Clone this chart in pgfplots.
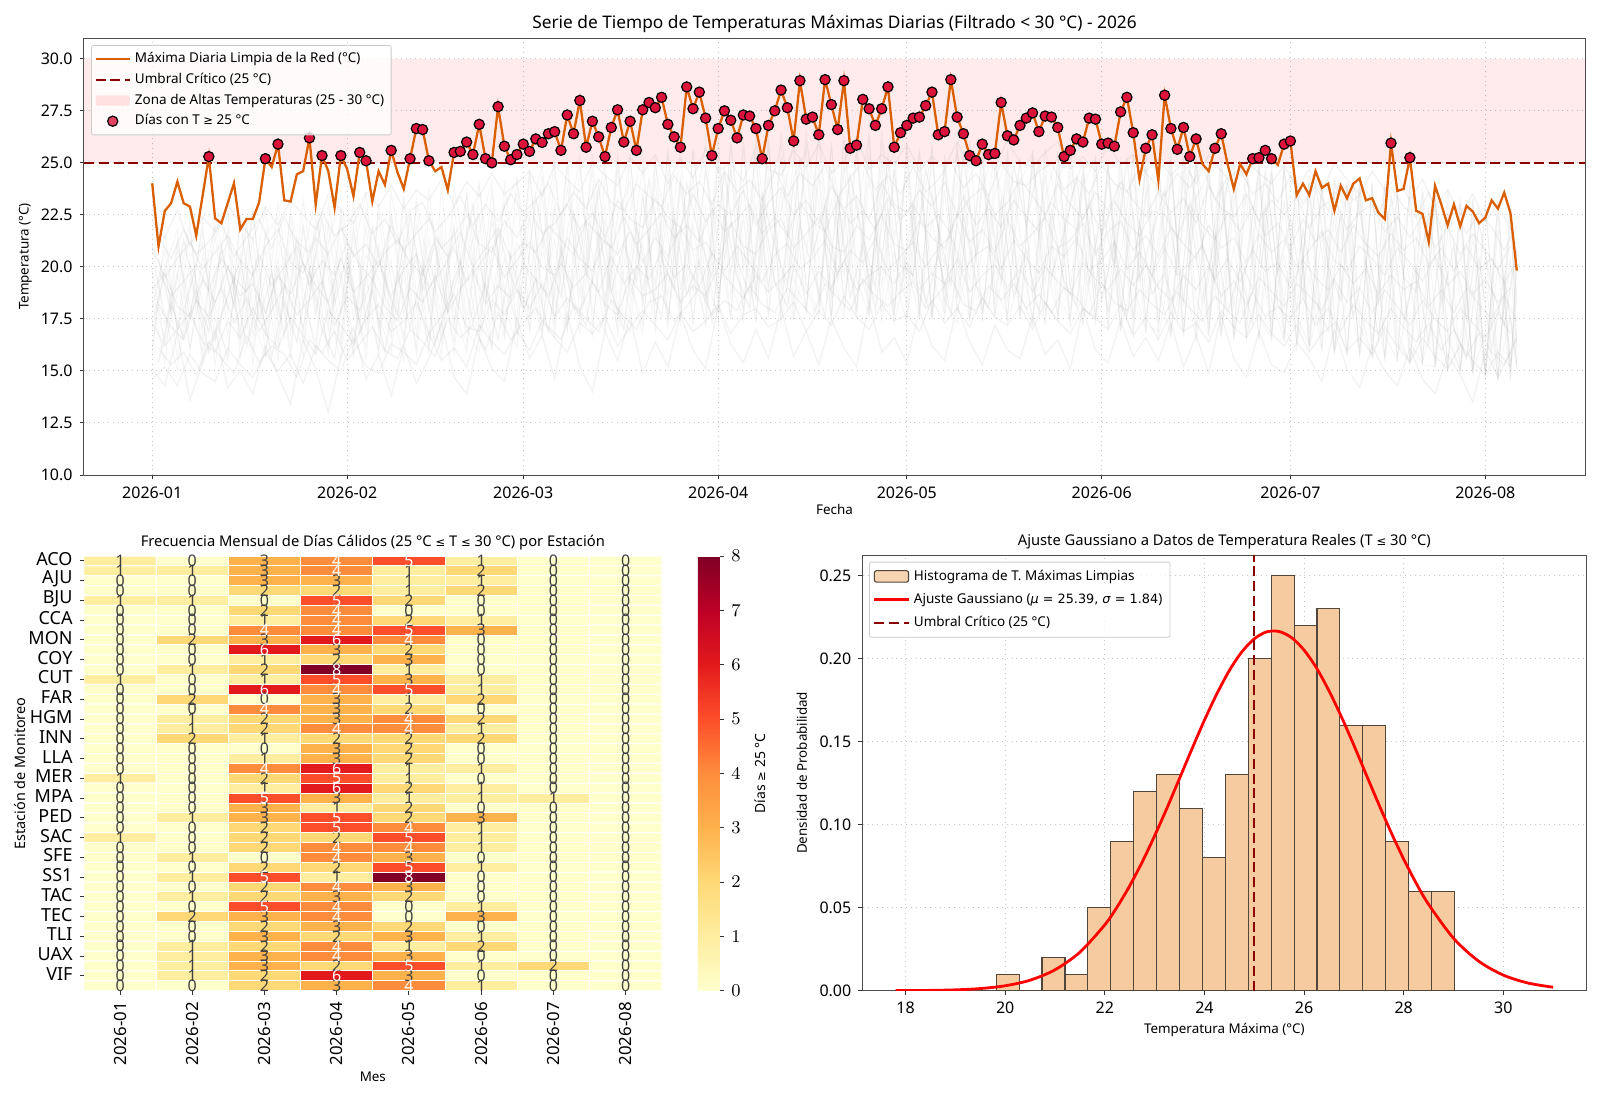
\documentclass[border=0pt]{standalone}
\usepackage{fontspec}
\setmainfont{Noto Sans}
\newfontfamily\dejavu{DejaVu Sans}
\usepackage{pgfplots}
\usepackage{pgfplotstable}
\pgfplotsset{compat=1.18}
\definecolor{linea}{RGB}{217,95,2}
\definecolor{umbral}{RGB}{139,0,0}
\definecolor{crimson}{RGB}{220,20,60}
\definecolor{barra}{RGB}{247,203,160}
\definecolor{bordebarra}{RGB}{80,70,60}

\newcommand{\fs}[1]{\fontsize{#1}{#1}\selectfont}
\newcommand{\sy}[1]{{\dejavu\fontsize{5.8}{5.8}\selectfont #1}}

\pgfplotsset{
  base/.style={
    scale only axis,
    /pgf/number format/assume math mode=true,
    tick label style={font=\fs{8}},
    label style={font=\fs{6.7}},
    title style={font=\fs{7.37},anchor=base,yshift=-1pt},
    tick style={black!80,line width=.5pt},
    major tick length=2.2pt,
    axis line style={black!70,line width=.5pt},
    tick align=outside,
  },
  rejilla/.style={
    grid=major,
    grid style={black!22,dotted,line width=.5pt},
    tick pos=left,
  },
  umbralst/.style={umbral,line width=1.2pt,dash pattern=on 5pt off 2.4pt},
}

% max diaria de la red, dia 0 = 2026-01-01
\pgfplotstableread[row sep=\\]{
d t\\
0 24.02\\1 20.98\\2 22.69\\3 23.06\\4 24.10\\5 23.06\\6 22.90\\7 21.50\\8 23.40\\9 25.30\\
10 22.33\\11 22.10\\12 23.06\\13 24.02\\14 21.80\\15 22.30\\16 22.30\\17 23.10\\18 25.20\\19 24.80\\
20 25.90\\21 23.20\\22 23.14\\23 24.45\\24 24.60\\25 26.20\\26 23.00\\27 25.35\\28 24.60\\29 22.85\\
30 25.35\\31 24.70\\32 23.40\\33 25.50\\34 25.10\\35 23.15\\36 24.60\\37 23.95\\38 25.60\\39 24.55\\
40 23.75\\41 25.20\\42 26.65\\43 26.60\\44 25.10\\45 24.60\\46 24.80\\47 23.70\\48 25.50\\49 25.55\\
50 26.00\\51 25.40\\52 26.85\\53 25.20\\54 25.00\\55 27.70\\56 25.80\\57 25.15\\58 25.40\\59 25.90\\
60 25.55\\61 26.15\\62 25.98\\63 26.40\\64 26.50\\65 25.60\\66 27.30\\67 26.40\\68 28.00\\69 25.75\\
70 27.00\\71 26.25\\72 25.30\\73 26.70\\74 27.55\\75 26.00\\76 27.00\\77 25.60\\78 27.55\\79 27.90\\
80 27.65\\81 28.15\\82 26.85\\83 26.25\\84 25.75\\85 28.65\\86 27.60\\87 28.40\\88 27.15\\89 25.35\\
90 26.65\\91 27.50\\92 27.05\\93 26.20\\94 27.30\\95 27.25\\96 26.65\\97 25.20\\98 26.80\\99 27.50\\
100 28.50\\101 27.65\\102 26.05\\103 28.95\\104 27.10\\105 27.20\\106 26.35\\107 29.00\\108 27.80\\109 26.60\\
110 28.95\\111 25.70\\112 25.85\\113 28.05\\114 27.60\\115 26.80\\116 27.60\\117 28.65\\118 25.75\\119 26.45\\
120 26.80\\121 27.15\\122 27.20\\123 27.75\\124 28.40\\125 26.35\\126 26.50\\127 29.00\\128 27.20\\129 26.40\\
130 25.35\\131 25.10\\132 25.90\\133 25.40\\134 25.45\\135 27.90\\136 26.30\\137 26.10\\138 26.80\\139 27.15\\
140 27.40\\141 26.50\\142 27.25\\143 27.20\\144 26.70\\145 25.30\\146 25.60\\147 26.15\\148 26.00\\149 27.15\\
150 27.10\\151 25.90\\152 25.95\\153 25.80\\154 27.45\\155 28.15\\156 26.45\\157 24.20\\158 25.70\\159 26.35\\
160 24.15\\161 28.25\\162 26.65\\163 25.65\\164 26.70\\165 25.30\\166 26.15\\167 24.95\\168 24.60\\169 25.70\\
170 26.40\\171 24.95\\172 23.75\\173 24.95\\174 24.45\\175 25.20\\176 25.25\\177 25.60\\178 25.20\\179 24.90\\
180 25.90\\181 26.05\\182 23.45\\183 24.00\\184 23.45\\185 24.60\\186 23.80\\187 24.00\\188 22.70\\189 23.90\\
190 23.30\\191 24.00\\192 24.25\\193 23.20\\194 23.30\\195 22.60\\196 22.30\\197 25.95\\198 23.65\\199 23.75\\
200 25.25\\201 22.70\\202 22.55\\203 21.20\\204 23.90\\205 23.00\\206 22.00\\207 23.00\\208 21.95\\209 22.93\\
210 22.66\\211 22.10\\212 22.37\\213 23.20\\214 22.80\\215 23.57\\216 22.58\\217 19.82\\
}\maxred

% estaciones individuales (fondo gris), estimadas a ojo: una cada dos dias
\pgfplotstableread{
d a b c e f g h i j k
0 16.2 19.8 17.4 21.0 18.3 15.8 20.4 17.0 19.1 18.0
2 20.1 16.4 19.6 17.2 15.4 21.6 17.8 19.9 16.3 20.8
4 15.6 21.3 17.1 19.7 20.9 17.0 15.0 21.8 18.7 16.9
6 19.4 17.5 21.9 16.0 18.2 20.2 18.9 16.1 22.3 19.0
8 17.1 22.2 16.6 20.5 15.9 18.4 21.7 19.3 15.4 21.1
10 21.5 15.2 19.2 18.1 22.6 16.4 17.5 22.0 19.8 16.5
12 16.8 20.0 22.7 15.5 19.4 21.9 15.8 17.9 21.2 18.6
14 19.9 18.2 16.2 22.4 17.0 15.6 22.5 20.6 16.6 20.3
16 15.3 22.9 19.7 17.8 21.4 19.2 16.7 15.9 22.6 17.4
18 21.8 16.7 17.2 20.9 15.8 22.8 19.6 21.5 17.7 15.7
20 17.7 20.4 23.1 16.3 19.9 17.2 15.5 22.4 20.0 21.3
22 22.5 16.0 18.4 21.7 17.3 20.7 22.9 16.8 15.6 19.2
24 16.4 21.9 15.7 19.0 23.2 16.9 18.3 20.5 22.1 17.1
26 20.6 17.6 21.4 15.9 18.8 22.3 16.4 23.3 17.9 20.0
28 18.2 23.0 16.9 22.1 16.2 19.5 21.2 17.4 20.7 15.8
30 15.4 19.3 22.8 17.7 21.0 16.1 23.4 19.8 16.5 22.4
32 22.1 15.7 18.6 20.7 16.3 23.2 19.1 15.9 21.6 17.5
34 17.0 21.9 16.1 23.5 19.7 17.4 15.6 22.8 18.3 20.6
36 20.8 16.8 23.0 17.6 15.8 21.1 22.7 17.2 16.0 19.4
38 16.5 22.6 19.3 15.9 22.4 18.2 17.1 20.3 23.6 17.9
40 23.1 18.5 16.4 21.5 17.7 15.5 23.4 16.6 19.9 21.0
42 17.9 20.4 22.9 16.8 20.8 23.3 18.7 22.0 16.1 15.8
44 21.4 15.9 17.8 23.7 16.6 19.8 16.2 18.9 22.7 20.5
46 16.3 23.8 20.6 18.4 22.2 16.7 21.5 15.7 19.2 17.6
48 19.6 17.3 15.8 22.0 18.1 23.9 17.0 23.0 16.4 21.8
50 23.4 20.2 21.9 16.2 15.9 20.0 23.6 17.5 21.3 17.0
52 16.9 22.5 17.4 20.1 23.8 16.5 18.6 21.7 24.0 15.9
54 22.2 16.0 23.7 17.9 19.5 22.6 16.1 24.1 17.3 20.7
56 18.3 24.0 16.7 23.1 16.6 18.9 21.8 17.2 20.4 22.9
58 16.1 19.7 21.2 16.9 24.3 17.5 23.5 20.0 16.8 24.2
60 24.5 17.1 19.5 22.3 17.6 24.7 16.9 22.4 18.8 20.1
62 18.7 23.6 16.6 24.9 21.4 18.2 20.8 17.0 24.4 16.8
64 21.3 17.2 24.6 18.4 16.7 23.0 25.1 19.6 17.5 22.8
66 17.0 25.2 20.0 16.9 23.9 19.4 17.3 24.8 21.7 18.1
68 24.9 19.3 17.3 23.4 18.5 16.8 21.9 17.6 25.3 20.4
70 19.2 16.7 22.9 20.6 25.4 21.8 18.0 23.7 17.2 24.6
72 23.0 24.4 18.1 17.0 19.7 25.0 16.9 18.5 22.3 17.7
74 17.4 20.9 25.5 22.5 17.1 18.0 24.7 21.0 16.7 25.1
76 25.2 17.8 19.2 24.1 22.7 16.9 19.4 25.4 20.5 18.6
78 18.9 23.5 16.8 18.3 25.6 23.3 17.2 17.9 24.8 21.1
80 21.8 18.4 24.9 25.3 17.6 19.1 22.6 24.2 17.3 16.9
82 17.1 25.7 21.5 17.4 20.2 25.5 18.6 17.5 23.1 24.7
84 24.1 19.0 17.3 23.8 25.8 17.7 24.3 21.9 18.2 17.6
86 19.5 22.2 25.6 18.8 17.2 24.4 20.7 17.4 25.7 22.0
88 17.5 25.9 20.3 24.6 22.8 18.4 17.1 24.9 19.3 18.1
90 25.0 18.3 17.4 21.2 18.0 26.1 23.6 18.7 17.8 25.4
92 18.6 24.7 25.9 17.6 24.8 19.3 17.5 22.1 26.0 19.7
94 22.4 17.7 19.8 26.2 20.1 17.4 25.7 17.9 20.9 23.8
96 17.3 26.3 23.0 18.6 25.6 24.1 18.9 25.2 17.6 18.4
98 25.8 20.4 17.6 24.5 17.7 18.8 26.4 19.1 23.4 26.0
100 19.0 18.1 26.5 19.9 22.6 25.3 17.4 23.7 25.9 17.8
102 23.9 25.4 21.1 17.5 26.2 18.2 20.8 17.6 19.4 24.3
104 17.7 19.2 18.0 26.0 18.9 26.6 24.9 20.5 17.9 25.6
106 26.7 17.8 24.4 23.1 17.5 20.3 18.1 26.3 25.1 18.6
108 20.0 24.8 17.6 18.7 25.7 17.7 26.0 18.4 17.4 23.2
110 17.5 18.5 26.1 25.0 21.3 24.5 17.9 22.7 26.4 19.6
112 25.5 22.0 19.4 17.8 18.0 26.2 23.3 17.5 20.2 25.8
114 18.8 26.5 17.7 24.2 26.3 18.9 17.6 25.4 18.3 17.9
116 24.0 17.4 23.5 20.6 17.8 22.9 26.1 19.0 25.0 26.6
118 17.9 20.7 25.6 17.6 24.6 17.3 19.5 24.7 17.7 21.4
120 25.9 18.2 17.5 25.8 19.6 20.1 17.4 18.8 25.2 24.4
122 19.3 24.6 21.9 17.7 25.5 17.6 24.0 25.7 17.9 18.0
124 17.6 17.8 25.7 22.3 17.4 25.9 19.7 17.5 23.6 25.3
126 24.8 25.4 18.4 19.0 23.7 18.1 17.8 24.9 20.0 17.6
128 18.5 19.9 17.3 25.6 17.9 24.2 25.6 18.3 26.0 22.1
130 26.1 17.5 24.3 18.1 20.4 17.5 21.2 23.1 17.4 19.4
132 17.7 23.8 25.8 17.4 25.2 20.8 17.6 17.9 24.5 25.5
134 22.6 25.9 19.0 24.7 17.6 25.7 23.5 19.8 18.2 17.7
136 17.4 18.4 17.7 22.5 24.1 17.3 25.4 24.7 25.6 20.9
138 25.3 20.6 24.0 17.5 18.7 19.5 17.8 17.6 21.7 25.1
140 18.9 17.6 25.5 25.6 17.2 24.8 22.2 25.2 17.3 18.5
142 24.4 25.7 18.3 19.2 23.3 17.9 17.2 20.4 25.0 17.4
144 17.5 22.8 17.4 24.9 25.5 21.0 25.3 17.7 18.6 24.2
146 25.6 17.8 23.2 17.1 19.1 17.4 18.9 24.6 17.5 25.7
148 20.2 24.3 25.1 18.6 17.3 25.0 24.5 17.2 23.9 18.0
150 17.3 18.8 17.6 25.4 24.7 18.7 17.5 21.5 25.2 17.6
152 24.9 25.0 19.7 17.2 17.8 24.3 25.1 17.9 16.9 22.6
154 18.0 16.9 25.3 23.0 20.5 17.0 18.4 24.8 24.1 17.1
156 22.7 24.5 17.4 16.8 25.2 19.6 16.7 19.3 17.5 25.4
158 16.8 17.6 23.8 25.5 17.2 24.6 23.4 16.9 25.0 18.6
160 25.1 21.3 16.6 18.9 16.9 17.3 25.2 24.0 17.2 20.7
162 17.7 25.4 20.1 16.7 24.4 22.5 17.0 16.6 24.7 25.0
164 24.2 16.8 25.3 24.6 18.1 16.6 19.8 25.1 18.3 16.9
166 16.6 23.6 17.0 18.5 25.0 24.9 16.5 21.7 25.3 23.3
168 19.4 17.2 24.7 16.7 21.6 17.7 25.2 16.8 16.9 24.5
170 25.2 24.4 16.7 22.9 16.6 25.1 18.2 23.9 24.1 17.0
172 17.0 16.6 23.1 25.0 24.8 16.5 24.0 18.0 16.7 21.0
174 23.5 20.0 25.1 16.6 17.1 24.3 16.7 25.0 20.4 16.6
176 16.5 24.9 17.5 19.1 25.0 21.2 18.8 16.5 24.6 24.2
178 24.6 16.7 16.6 24.5 18.4 16.8 24.9 22.4 16.4 17.4
180 18.1 23.2 24.8 16.4 16.5 24.7 17.0 16.6 25.0 20.6
182 24.0 16.5 17.9 24.2 22.8 16.3 16.0 24.3 17.6 16.4
184 16.2 24.1 23.4 16.8 16.1 19.5 24.4 16.1 16.3 23.9
186 21.6 17.3 16.0 23.7 24.2 16.0 20.7 18.9 24.0 16.7
188 16.0 22.5 24.3 15.9 17.7 24.1 15.8 23.6 15.9 21.2
190 24.1 15.8 19.2 21.9 15.8 22.7 24.0 15.8 18.5 23.5
192 17.2 24.0 15.9 16.1 23.8 15.7 18.1 24.2 23.3 15.7
194 15.7 19.6 23.7 24.1 16.0 20.3 15.6 16.4 15.7 24.0
196 23.8 15.6 16.7 15.6 22.1 23.9 17.5 21.4 24.0 15.6
198 16.4 23.5 15.5 20.0 23.7 15.6 23.6 15.5 17.0 22.6
200 15.5 16.3 24.0 23.4 15.5 18.6 15.4 23.9 15.3 19.3
202 22.9 15.4 20.8 15.4 17.2 23.6 21.1 15.3 23.8 15.5
204 15.3 23.6 15.3 18.0 23.5 15.2 23.4 15.2 17.9 23.0
206 19.7 15.2 23.2 15.1 16.6 21.7 15.1 23.7 15.1 16.9
208 15.0 22.3 15.1 23.3 15.0 23.1 16.2 18.4 23.0 15.0
210 23.3 15.0 18.9 14.8 22.7 15.0 23.2 14.9 15.2 21.5
212 14.9 20.7 15.0 22.9 14.7 16.8 14.8 23.4 19.4 14.7
214 22.6 14.7 23.1 15.6 20.1 14.6 21.8 14.7 14.6 23.2
216 15.2 23.0 14.5 20.5 14.6 22.8 14.9 17.7 22.1 15.3
217 19.0 16.3 20.6 15.0 21.0 16.0 20.0 15.4 18.2 17.0
}\estaciones

\pgfplotstableread[row sep=\\,header=false]{
14.6\\15.2\\14.3\\15.8\\14.9\\14.5\\16.1\\15.3\\14.7\\15.9\\15.0\\15.8\\14.4\\16.2\\15.5\\15.0\\16.6\\15.2\\14.9\\16.3\\
15.9\\15.3\\16.8\\15.5\\16.1\\15.2\\17.2\\16.4\\15.8\\16.9\\16.0\\17.4\\16.6\\15.9\\17.3\\16.8\\17.6\\16.2\\17.1\\17.9\\
17.2\\16.5\\17.8\\16.9\\17.4\\18.2\\16.8\\17.7\\18.0\\17.1\\17.5\\18.3\\16.9\\17.9\\17.2\\18.6\\17.6\\17.0\\18.2\\17.4\\
17.7\\16.9\\18.4\\17.3\\18.0\\17.1\\18.5\\17.6\\17.2\\18.1\\17.0\\18.3\\17.4\\16.8\\18.0\\17.5\\17.0\\18.2\\16.7\\17.6\\
16.5\\17.8\\16.9\\17.3\\16.4\\17.9\\17.1\\16.6\\17.7\\16.8\\16.2\\17.2\\15.9\\16.8\\17.3\\16.0\\16.6\\15.8\\17.1\\16.2\\
15.4\\16.6\\15.7\\15.1\\16.3\\15.5\\14.8\\15.9\\15.2\\14.6\\
}\sA
\pgfplotstableread[row sep=\\,header=false]{
16.1\\15.3\\15.9\\14.8\\16.4\\15.6\\14.9\\16.7\\15.4\\16.2\\15.8\\14.7\\16.5\\15.9\\16.9\\15.5\\16.3\\17.1\\16.0\\15.6\\
17.0\\16.4\\15.7\\17.5\\16.6\\17.2\\16.0\\17.8\\16.5\\17.3\\18.0\\17.1\\16.5\\18.1\\17.5\\16.9\\18.4\\17.6\\17.0\\18.3\\
18.6\\17.4\\18.1\\19.0\\17.7\\18.4\\17.9\\19.1\\18.2\\17.8\\19.0\\18.3\\17.6\\19.2\\18.5\\17.9\\19.4\\18.6\\18.1\\18.8\\
19.3\\18.0\\18.7\\19.5\\18.2\\17.9\\19.1\\18.4\\19.2\\18.0\\18.7\\17.8\\19.0\\18.5\\17.7\\19.2\\18.3\\17.9\\18.9\\18.2\\
17.7\\18.8\\18.0\\17.4\\18.6\\17.9\\17.3\\18.8\\17.6\\18.1\\17.5\\18.5\\17.2\\18.0\\16.9\\18.2\\17.4\\16.8\\18.0\\17.1\\
16.4\\17.3\\16.0\\17.0\\15.7\\16.8\\15.9\\15.3\\16.6\\15.8\\
}\sB
\pgfplotstableread[row sep=\\,header=false]{
17.3\\16.2\\17.0\\17.8\\16.4\\15.9\\17.4\\16.6\\18.0\\16.8\\16.1\\17.6\\16.7\\15.8\\17.9\\17.2\\16.3\\17.5\\18.2\\16.9\\
17.4\\18.3\\16.8\\17.6\\18.7\\17.1\\16.9\\18.4\\17.7\\18.9\\18.0\\19.2\\17.6\\18.5\\17.9\\19.3\\18.2\\17.7\\19.5\\18.6\\
18.9\\19.7\\18.3\\19.1\\18.6\\20.0\\19.2\\18.5\\19.6\\18.8\\19.4\\20.1\\18.7\\19.8\\19.0\\20.3\\18.9\\19.6\\20.0\\19.2\\
20.2\\18.9\\19.7\\19.2\\20.4\\18.8\\19.6\\20.1\\19.0\\19.9\\18.8\\20.0\\19.3\\18.7\\20.2\\19.4\\18.9\\19.9\\19.1\\20.1\\
19.0\\18.4\\19.6\\18.9\\20.0\\18.6\\19.3\\18.2\\19.5\\18.8\\18.1\\19.2\\18.6\\17.9\\19.4\\18.3\\19.0\\17.8\\18.9\\18.1\\
17.2\\18.4\\17.5\\16.9\\18.0\\17.3\\16.6\\17.8\\16.8\\16.0\\
}\sC
\pgfplotstableread[row sep=\\,header=false]{
18.2\\17.1\\16.5\\18.4\\17.6\\19.0\\17.3\\18.5\\16.9\\17.9\\19.1\\17.7\\18.4\\19.3\\17.2\\18.6\\17.9\\19.4\\18.1\\17.4\\
19.0\\18.3\\19.6\\17.8\\18.9\\19.9\\18.2\\19.1\\18.5\\20.1\\19.4\\18.6\\20.2\\19.0\\19.7\\18.8\\20.5\\19.2\\20.0\\19.4\\
20.8\\19.5\\20.1\\19.0\\20.7\\19.8\\21.0\\20.2\\19.3\\20.6\\21.1\\19.9\\20.4\\21.3\\19.7\\20.8\\20.2\\21.4\\19.8\\20.5\\
21.2\\20.0\\20.9\\21.5\\19.8\\20.6\\21.0\\19.9\\21.3\\20.4\\19.7\\21.0\\20.5\\21.4\\19.8\\20.3\\21.2\\19.9\\20.7\\19.6\\
20.9\\19.6\\20.2\\21.0\\19.4\\20.4\\19.3\\20.8\\19.8\\20.2\\19.0\\20.3\\19.5\\18.9\\20.1\\19.2\\19.9\\18.7\\19.6\\18.9\\
19.3\\18.1\\18.9\\17.8\\19.0\\18.2\\17.5\\18.6\\17.4\\16.8\\
}\sD
\pgfplotstableread[row sep=\\,header=false]{
18.9\\19.7\\18.1\\17.6\\19.4\\18.3\\20.0\\18.6\\19.2\\17.8\\19.6\\18.7\\20.2\\19.1\\18.3\\20.4\\18.8\\19.5\\20.3\\18.6\\
19.9\\20.6\\19.0\\19.8\\20.9\\19.3\\20.1\\21.0\\19.5\\20.3\\21.2\\20.0\\19.6\\21.4\\20.4\\19.8\\21.3\\20.6\\21.7\\20.2\\
21.4\\20.5\\21.9\\20.8\\21.2\\20.1\\22.1\\21.0\\20.6\\21.8\\22.3\\20.9\\21.6\\22.4\\21.0\\20.7\\22.0\\21.3\\22.5\\21.1\\
20.8\\22.2\\21.4\\20.9\\22.6\\21.2\\21.8\\20.7\\22.3\\21.0\\21.6\\22.4\\20.9\\21.3\\22.1\\20.6\\21.7\\22.2\\20.8\\21.5\\
20.5\\21.9\\21.1\\20.4\\22.0\\20.9\\21.4\\20.2\\21.6\\20.7\\21.3\\20.0\\20.8\\21.7\\20.3\\19.8\\21.0\\20.4\\19.6\\20.9\\
20.2\\19.3\\20.5\\19.1\\19.8\\18.7\\19.4\\18.3\\19.0\\18.0\\
}\sE
\pgfplotstableread[row sep=\\,header=false]{
19.8\\18.6\\19.3\\20.1\\18.9\\20.4\\19.5\\18.8\\20.6\\19.1\\20.0\\21.0\\19.2\\20.3\\19.6\\21.2\\20.1\\19.4\\20.7\\21.3\\
20.2\\19.6\\21.4\\20.5\\21.7\\20.0\\20.9\\21.9\\20.4\\21.2\\20.7\\22.0\\21.3\\20.6\\22.2\\21.5\\20.9\\22.4\\21.1\\21.8\\
22.6\\21.4\\22.0\\21.2\\22.8\\21.7\\22.3\\23.0\\21.6\\22.4\\21.5\\23.1\\22.2\\21.7\\23.2\\22.1\\22.7\\21.8\\23.3\\22.3\\
23.0\\21.9\\22.5\\21.6\\23.4\\22.0\\22.8\\21.9\\23.2\\22.4\\21.7\\23.1\\22.3\\21.8\\22.9\\21.6\\23.2\\22.1\\21.5\\22.7\\
22.5\\21.4\\23.0\\22.0\\21.3\\22.6\\21.7\\22.9\\21.5\\22.1\\20.9\\22.3\\21.2\\21.8\\20.7\\22.0\\21.1\\20.5\\21.6\\20.8\\
21.4\\20.1\\20.9\\19.8\\21.0\\19.9\\20.4\\19.2\\20.3\\19.1\\
}\sF
\pgfplotstableread[row sep=\\,header=false]{
20.9\\19.5\\20.4\\21.2\\19.9\\20.7\\21.5\\20.3\\19.6\\21.0\\21.8\\20.2\\19.7\\21.4\\20.6\\21.9\\20.5\\21.1\\20.0\\22.0\\
20.8\\21.6\\22.3\\20.9\\21.5\\22.5\\21.1\\20.7\\22.2\\21.4\\22.7\\21.6\\22.1\\23.0\\21.8\\22.6\\21.4\\23.2\\22.3\\21.9\\
23.3\\22.4\\21.9\\23.5\\22.2\\23.0\\22.5\\23.7\\22.0\\23.1\\23.8\\22.5\\23.2\\22.1\\23.9\\22.8\\23.4\\22.3\\24.0\\23.0\\
22.6\\23.7\\22.9\\24.1\\22.4\\23.3\\23.8\\22.5\\23.1\\24.2\\23.4\\22.5\\24.0\\23.0\\22.3\\23.6\\22.7\\24.1\\23.2\\22.4\\
23.6\\22.6\\23.3\\22.1\\23.9\\22.8\\22.4\\23.5\\22.2\\23.2\\22.5\\23.4\\21.9\\22.9\\23.3\\21.8\\22.6\\23.0\\21.7\\22.4\\
21.4\\22.5\\20.9\\21.9\\20.6\\21.6\\20.8\\19.9\\21.0\\19.7\\
}\sG
\pgfplotstableread[row sep=\\,header=false]{
21.5\\20.4\\21.8\\20.6\\21.2\\22.1\\20.5\\21.4\\22.3\\20.9\\22.4\\21.2\\20.7\\22.6\\21.5\\22.0\\23.0\\21.6\\22.3\\21.1\\
22.7\\23.1\\21.7\\22.4\\23.4\\22.0\\23.0\\22.2\\23.5\\22.6\\23.2\\24.0\\22.5\\23.6\\22.8\\24.2\\23.1\\22.7\\24.0\\23.4\\
22.9\\24.4\\23.5\\24.1\\23.0\\24.6\\23.6\\24.2\\23.2\\24.7\\23.4\\24.5\\23.9\\24.9\\23.3\\24.3\\25.0\\23.7\\24.4\\23.5\\
24.8\\23.6\\24.2\\25.1\\23.8\\24.5\\23.4\\25.0\\24.1\\23.9\\24.6\\25.0\\23.7\\24.3\\23.5\\24.9\\24.0\\23.6\\24.8\\24.2\\
23.4\\24.5\\23.8\\24.9\\23.2\\24.3\\24.7\\23.5\\24.0\\23.1\\24.4\\23.0\\23.9\\22.7\\24.1\\23.2\\23.7\\22.6\\23.8\\22.9\\
22.4\\23.6\\21.8\\22.9\\21.6\\22.6\\21.9\\20.8\\22.0\\20.9\\
}\sH
\pgfplotstableread[row sep=\\,header=false]{
22.2\\21.4\\22.7\\21.0\\22.4\\21.7\\23.0\\22.1\\21.3\\22.9\\22.0\\23.2\\22.5\\21.8\\23.5\\22.7\\22.1\\23.6\\22.9\\23.9\\
22.8\\23.7\\23.2\\24.2\\23.0\\24.1\\23.4\\24.5\\23.5\\24.0\\24.6\\23.4\\24.9\\24.2\\23.6\\25.0\\24.4\\23.9\\25.3\\24.5\\
25.4\\24.0\\25.2\\24.3\\25.7\\24.6\\25.0\\24.1\\25.8\\24.7\\24.4\\25.6\\24.8\\25.9\\24.5\\25.1\\26.2\\24.7\\25.4\\24.9\\
25.9\\24.6\\25.3\\24.8\\26.0\\24.9\\25.5\\24.7\\26.1\\25.0\\24.8\\25.5\\26.0\\24.7\\25.3\\24.6\\25.9\\24.9\\25.4\\24.6\\
25.2\\24.4\\25.0\\24.0\\25.4\\24.6\\23.9\\25.1\\24.5\\24.0\\24.9\\23.8\\24.7\\23.6\\25.0\\24.2\\23.5\\24.6\\23.7\\24.4\\
23.2\\24.2\\22.9\\23.7\\22.5\\23.5\\22.2\\23.0\\21.8\\21.2\\
}\sI
\pgfplotstableread[row sep=\\,header=false]{
15.4\\18.2\\16.6\\19.0\\15.9\\17.7\\19.5\\16.2\\18.6\\15.7\\18.3\\16.4\\19.9\\17.0\\15.6\\20.2\\16.8\\18.9\\15.9\\19.7\\
17.1\\20.0\\16.3\\18.4\\20.3\\17.3\\19.2\\16.5\\20.6\\17.9\\19.4\\16.9\\20.9\\18.1\\17.2\\21.7\\18.8\\17.0\\22.0\\19.1\\
17.6\\22.4\\18.7\\20.3\\17.4\\22.6\\19.5\\18.0\\23.1\\19.3\\18.1\\22.0\\19.9\\17.6\\23.3\\18.5\\21.1\\17.9\\22.8\\18.9\\
23.0\\18.2\\20.6\\17.7\\22.5\\19.1\\18.0\\23.2\\18.6\\20.8\\17.8\\22.7\\19.3\\18.1\\23.4\\18.4\\21.2\\17.6\\22.1\\18.7\\
19.7\\17.5\\22.9\\18.3\\21.5\\17.8\\19.9\\17.3\\23.0\\18.2\\17.2\\21.8\\18.4\\16.9\\22.6\\17.6\\20.4\\16.6\\22.2\\17.4\\
20.0\\16.3\\21.6\\17.0\\15.6\\20.4\\16.0\\19.5\\15.2\\18.4\\
}\sJ
\pgfplotstableread[row sep=\\,header=false]{
15.1\\14.3\\16.8\\13.6\\15.4\\17.0\\14.2\\15.0\\13.9\\16.2\\14.8\\13.4\\16.5\\15.1\\13.0\\15.7\\17.1\\14.6\\15.8\\13.8\\
16.2\\14.4\\15.6\\17.3\\14.7\\13.9\\16.6\\15.1\\14.5\\17.5\\15.6\\16.7\\14.6\\17.8\\15.2\\14.0\\16.9\\15.5\\17.6\\14.9\\
16.4\\15.2\\17.7\\16.0\\15.1\\18.1\\16.3\\15.4\\17.0\\15.6\\18.0\\15.7\\16.9\\15.3\\17.5\\16.1\\15.2\\18.3\\15.9\\16.6\\
15.4\\17.9\\16.2\\15.5\\18.1\\16.4\\15.3\\17.2\\16.0\\15.6\\17.6\\15.8\\16.5\\15.1\\18.0\\16.0\\15.4\\17.4\\15.7\\16.6\\
15.5\\17.3\\15.2\\16.7\\14.9\\17.7\\15.6\\14.7\\16.9\\15.3\\14.9\\16.4\\15.6\\14.5\\17.0\\15.1\\14.2\\16.2\\15.0\\14.3\\
16.1\\14.6\\13.9\\15.8\\14.8\\13.5\\16.0\\14.7\\15.9\\14.9\\
}\sK
\pgfplotstableread[row sep=\\,header=false]{
20.4\\17.8\\21.3\\18.5\\16.9\\20.9\\18.1\\22.0\\17.4\\19.7\\16.7\\21.4\\19.0\\22.3\\18.2\\20.6\\17.3\\21.9\\19.2\\17.7\\
22.5\\18.9\\21.2\\17.9\\20.0\\23.0\\18.4\\21.7\\19.6\\18.1\\23.3\\20.2\\18.6\\22.6\\19.7\\23.9\\18.8\\21.1\\19.3\\24.2\\
20.4\\18.9\\24.0\\21.5\\19.5\\24.6\\20.3\\18.7\\23.5\\21.0\\19.2\\25.1\\20.6\\22.9\\19.4\\24.4\\21.4\\19.0\\25.3\\20.1\\
19.6\\24.7\\21.9\\19.1\\25.4\\20.5\\23.3\\19.3\\24.9\\22.0\\25.0\\19.5\\21.7\\24.3\\19.2\\22.8\\20.1\\25.2\\19.4\\21.6\\
23.7\\19.8\\24.8\\21.0\\19.3\\24.1\\20.4\\18.9\\24.6\\19.7\\22.3\\18.6\\23.9\\20.0\\18.4\\24.0\\21.2\\18.3\\23.4\\19.5\\
18.8\\22.7\\18.2\\21.0\\17.5\\22.1\\19.0\\17.2\\20.8\\16.7\\
}\sL

\newcommand{\gris}[2]{%
  \addplot[forget plot,black!35,opacity=0.15,line width=.65pt,restrict x to domain=0:217]
    table[x expr={2*\coordindex+#1},y index=0]{#2};
}

% mes (c), fila (r), dias calidos (v)
\pgfplotstableread[row sep=\\]{
c r v\\
0 0 1\\1 0 0\\2 0 3\\3 0 4\\4 0 5\\5 0 1\\6 0 0\\7 0 0\\
0 1 1\\1 1 1\\2 1 3\\3 1 4\\4 1 1\\5 1 2\\6 1 0\\7 1 0\\
0 2 0\\1 2 0\\2 2 3\\3 2 3\\4 2 1\\5 2 1\\6 2 0\\7 2 0\\
0 3 0\\1 3 0\\2 3 2\\3 3 2\\4 3 1\\5 3 2\\6 3 0\\7 3 0\\
0 4 1\\1 4 1\\2 4 0\\3 4 5\\4 4 2\\5 4 0\\6 4 0\\7 4 0\\
0 5 0\\1 5 0\\2 5 2\\3 5 4\\4 5 0\\5 5 0\\6 5 0\\7 5 0\\
0 6 0\\1 6 0\\2 6 1\\3 6 4\\4 6 2\\5 6 1\\6 6 0\\7 6 0\\
0 7 0\\1 7 0\\2 7 4\\3 7 4\\4 7 5\\5 7 3\\6 7 0\\7 7 0\\
0 8 0\\1 8 2\\2 8 3\\3 8 6\\4 8 4\\5 8 0\\6 8 0\\7 8 0\\
0 9 0\\1 9 0\\2 9 6\\3 9 3\\4 9 2\\5 9 0\\6 9 0\\7 9 0\\
0 10 0\\1 10 0\\2 10 1\\3 10 2\\4 10 3\\5 10 0\\6 10 0\\7 10 0\\
0 11 0\\1 11 1\\2 11 2\\3 11 8\\4 11 1\\5 11 0\\6 11 0\\7 11 0\\
0 12 1\\1 12 0\\2 12 1\\3 12 5\\4 12 3\\5 12 1\\6 12 0\\7 12 0\\
0 13 0\\1 13 0\\2 13 6\\3 13 4\\4 13 5\\5 13 1\\6 13 0\\7 13 0\\
0 14 0\\1 14 2\\2 14 0\\3 14 3\\4 14 1\\5 14 2\\6 14 0\\7 14 0\\
0 15 0\\1 15 0\\2 15 4\\3 15 3\\4 15 2\\5 15 0\\6 15 0\\7 15 0\\
0 16 0\\1 16 1\\2 16 2\\3 16 3\\4 16 4\\5 16 2\\6 16 0\\7 16 0\\
0 17 0\\1 17 1\\2 17 2\\3 17 4\\4 17 4\\5 17 1\\6 17 0\\7 17 0\\
0 18 0\\1 18 2\\2 18 1\\3 18 2\\4 18 2\\5 18 2\\6 18 0\\7 18 0\\
0 19 0\\1 19 0\\2 19 0\\3 19 3\\4 19 2\\5 19 0\\6 19 0\\7 19 0\\
0 20 0\\1 20 0\\2 20 1\\3 20 3\\4 20 2\\5 20 0\\6 20 0\\7 20 0\\
0 21 0\\1 21 0\\2 21 4\\3 21 6\\4 21 1\\5 21 1\\6 21 0\\7 21 0\\
0 22 1\\1 22 0\\2 22 2\\3 22 5\\4 22 1\\5 22 0\\6 22 0\\7 22 0\\
0 23 0\\1 23 0\\2 23 1\\3 23 6\\4 23 2\\5 23 1\\6 23 0\\7 23 0\\
0 24 0\\1 24 0\\2 24 5\\3 24 3\\4 24 1\\5 24 1\\6 24 1\\7 24 0\\
0 25 0\\1 25 0\\2 25 3\\3 25 1\\4 25 2\\5 25 0\\6 25 0\\7 25 0\\
0 26 0\\1 26 1\\2 26 3\\3 26 5\\4 26 2\\5 26 3\\6 26 0\\7 26 0\\
0 27 0\\1 27 0\\2 27 2\\3 27 5\\4 27 4\\5 27 1\\6 27 0\\7 27 0\\
0 28 1\\1 28 0\\2 28 2\\3 28 2\\4 28 5\\5 28 1\\6 28 0\\7 28 0\\
0 29 0\\1 29 0\\2 29 2\\3 29 4\\4 29 4\\5 29 1\\6 29 0\\7 29 0\\
0 30 0\\1 30 1\\2 30 0\\3 30 4\\4 30 3\\5 30 0\\6 30 0\\7 30 0\\
0 31 0\\1 31 0\\2 31 2\\3 31 2\\4 31 5\\5 31 1\\6 31 0\\7 31 0\\
0 32 0\\1 32 1\\2 32 5\\3 32 1\\4 32 8\\5 32 0\\6 32 0\\7 32 0\\
0 33 0\\1 33 0\\2 33 2\\3 33 4\\4 33 3\\5 33 0\\6 33 0\\7 33 0\\
0 34 0\\1 34 1\\2 34 2\\3 34 3\\4 34 2\\5 34 0\\6 34 0\\7 34 0\\
0 35 0\\1 35 0\\2 35 5\\3 35 4\\4 35 0\\5 35 1\\6 35 0\\7 35 0\\
0 36 0\\1 36 2\\2 36 3\\3 36 4\\4 36 0\\5 36 3\\6 36 0\\7 36 0\\
0 37 0\\1 37 0\\2 37 2\\3 37 3\\4 37 2\\5 37 0\\6 37 0\\7 37 0\\
0 38 0\\1 38 0\\2 38 3\\3 38 2\\4 38 3\\5 38 1\\6 38 0\\7 38 0\\
0 39 0\\1 39 1\\2 39 2\\3 39 4\\4 39 1\\5 39 2\\6 39 0\\7 39 0\\
0 40 0\\1 40 1\\2 40 3\\3 40 4\\4 40 3\\5 40 0\\6 40 0\\7 40 0\\
0 41 0\\1 41 1\\2 41 3\\3 41 2\\4 41 5\\5 41 1\\6 41 2\\7 41 0\\
0 42 0\\1 42 1\\2 42 2\\3 42 6\\4 42 3\\5 42 0\\6 42 0\\7 42 0\\
0 43 0\\1 43 0\\2 43 2\\3 43 3\\4 43 4\\5 43 1\\6 43 0\\7 43 0\\
}\calor

\begin{document}
\begin{tikzpicture}
\useasboundingbox (0,0) rectangle (800pt,550pt);

%% serie de tiempo
\begin{axis}[base,rejilla,
  at={(42pt,312.5pt)},anchor=south west,width=750.5pt,height=218.5pt,
  xmin=-10.85,xmax=227.85,ymin=10,ymax=31,
  xtick={0,31,59,90,120,151,181,212},
  xticklabels={2026-01,2026-02,2026-03,2026-04,2026-05,2026-06,2026-07,2026-08},
  ytick={10,12.5,...,30},
  yticklabels={10.0,12.5,15.0,17.5,20.0,22.5,25.0,27.5,30.0},
  title={Serie de Tiempo de Temperaturas Máximas Diarias (Filtrado < 30 °C) - 2026},
  title style={font=\fs{8.65}},
  xlabel={Fecha},ylabel={Temperatura (°C)},
  xlabel style={at={(axis description cs:0.5,-0.08)},anchor=center},
  ylabel style={at={(axis description cs:-0.039,0.5)},anchor=center},
  legend cell align=left,
  legend style={at={(0.0047,0.984)},anchor=north west,draw=black!20,rounded corners=1pt,
    fill=white,fill opacity=0.8,text opacity=1,font=\fs{6.75},row sep=-.3pt,inner sep=1.5pt,
    /tikz/every even column/.append style={column sep=2pt}},
]
\addplot[forget plot,draw=none,fill=red,fill opacity=0.08] coordinates {(-10.85,25)(227.85,25)(227.85,30)(-10.85,30)} -- cycle;
\pgfplotsinvokeforeach{a,b,c,e,f,g,h,i,j,k}{
  \addplot[forget plot,black!35,opacity=0.11,line width=.5pt] table[x=d,y=#1]{\estaciones};
}
\gris{0}{\sA}\gris{1}{\sB}\gris{0}{\sC}\gris{1}{\sD}\gris{0}{\sE}\gris{1}{\sF}
\gris{0}{\sG}\gris{1}{\sH}\gris{0}{\sI}\gris{1}{\sJ}\gris{0}{\sK}\gris{1}{\sL}
\addplot[forget plot,umbralst] coordinates {(-10.85,25)(227.85,25)};
\addplot[forget plot,linea,line width=1.15pt] table[x=d,y=t]{\maxred};
\addplot[forget plot,only marks,mark=*,mark size=2.55pt,mark options={fill=crimson,draw=black,line width=.6pt},
  restrict y to domain=25:31] table[x=d,y=t]{\maxred};
\addlegendimage{linea,line width=1.1pt}
\addlegendentry{Máxima Diaria Limpia de la Red (°C)}
\addlegendimage{umbralst}
\addlegendentry{Umbral Crítico (25 °C)}
\addlegendimage{legend image code/.code={\path[draw=none,fill=red,fill opacity=.1] (0cm,-0.09cm) rectangle (0.6cm,0.09cm);}}
\addlegendentry{Zona de Altas Temperaturas (25 - 30 °C)}
\addlegendimage{only marks,mark=*,mark size=2.55pt,mark options={fill=crimson,draw=black,line width=.6pt}}
\addlegendentry{Días con T \sy{≥} 25 °C}
\end{axis}

%% mapa de calor
\begin{axis}[base,
  at={(42pt,54.65pt)},anchor=south west,width=288.85pt,height=217.35pt,
  xmin=-0.5,xmax=7.5,ymin=-0.5,ymax=43.5,y dir=reverse,
  axis line style={draw=none},
  xtick={0,...,7},
  xticklabels={2026-01,2026-02,2026-03,2026-04,2026-05,2026-06,2026-07,2026-08},
  x tick label style={rotate=90,anchor=east,font=\fs{8.4}},
  y tick label style={font=\fs{9},yshift=1pt},
  xtick pos=lower,xticklabel pos=lower,ytick pos=left,
  ytick={0,2,...,42},
  yticklabels={ACO,AJU,BJU,CCA,MON,COY,CUT,FAR,HGM,INN,LLA,MER,MPA,PED,SAC,SFE,SS1,TAC,TEC,TLI,UAX,VIF},
  title={Frecuencia Mensual de Días Cálidos (25 °C \sy{≤} T \sy{≤} 30 °C) por Estación},
  xlabel={Mes},ylabel={Estación de Monitoreo},
  ylabel style={at={(axis description cs:-0.111,0.5)},anchor=center,font=\fs{7.2}},
  xlabel style={at={(axis description cs:0.5,-0.1985)},anchor=center},
  colormap={ylorrd}{rgb255=(255,255,204) rgb255=(255,237,160) rgb255=(254,217,118) rgb255=(254,178,76)
    rgb255=(253,141,60) rgb255=(252,78,42) rgb255=(227,26,28) rgb255=(189,0,38) rgb255=(128,0,38)},
  point meta min=0,point meta max=8,
  colorbar,
  colorbar style={at={(parent axis.north east)},anchor=north west,xshift=9.6pt,
    width=11pt,height=217.35pt,ytick={0,...,8},ylabel={Días \sy{≥} 25 °C},
    axis line style={draw=none},
    ytick pos=right,yticklabel pos=right,tick align=outside,major tick length=2.2pt,
    tick style={black!80,line width=.5pt},
    y tick label style={font=\fs{9}},
    ylabel style={font=\fs{7}}},
]
\addplot[matrix plot,mesh/cols=8,point meta=explicit,draw=white,line width=.5pt] table[x=c,y=r,meta=v]{\calor};
\addplot[draw=none,mark=none,nodes near coords,point meta=explicit,
  restrict expr to domain={\thisrow{v}}{0:3},
  every node near coord/.append style={anchor=center,font=\fs{8},text=black!75,inner sep=0pt,/pgf/number format/fixed}]
  table[x=c,y=r,meta=v]{\calor};
\addplot[draw=none,mark=none,nodes near coords,point meta=explicit,
  restrict expr to domain={\thisrow{v}}{4:8},
  every node near coord/.append style={anchor=center,font=\fs{8},text=white,inner sep=0pt,/pgf/number format/fixed}]
  table[x=c,y=r,meta=v]{\calor};
\end{axis}

%% histograma
\begin{axis}[base,rejilla,
  at={(431.35pt,54.65pt)},anchor=south west,width=361.65pt,height=217.85pt,
  xmin=17.14,xmax=31.66,ymin=0,ymax=0.2625,
  xtick={18,20,...,30},
  ytick={0,0.05,...,0.25},
  yticklabels={0.00,0.05,0.10,0.15,0.20,0.25},
  title={Ajuste Gaussiano a Datos de Temperatura Reales (T \sy{≤} 30 °C)},
  xlabel={Temperatura Máxima (°C)},ylabel={Densidad de Probabilidad},
  xlabel style={at={(axis description cs:0.5,-0.0895)},anchor=center},
  ylabel style={at={(axis description cs:-0.084,0.5)},anchor=center},
  legend cell align=left,
  legend style={at={(0.0087,0.9846)},anchor=north west,draw=black!20,rounded corners=1pt,
    fill=white,fill opacity=0.8,text opacity=1,font=\fs{6.75},row sep=1.1pt,inner sep=1.8pt,
    /tikz/every even column/.append style={column sep=2pt}},
]
\addplot[forget plot,ybar interval,fill=barra,draw=bordebarra,line width=.55pt] coordinates {
(19.82,0.01)(20.28,0)(20.74,0.02)(21.20,0.01)(21.66,0.05)(22.12,0.09)(22.58,0.12)(23.04,0.13)(23.50,0.11)(23.96,0.08)
(24.42,0.13)(24.88,0.20)(25.34,0.25)(25.80,0.22)(26.26,0.23)(26.72,0.16)(27.18,0.16)(27.64,0.09)(28.10,0.06)(28.56,0.06)(29.02,0)};
\addplot[forget plot,red,line width=1.4pt,smooth] coordinates {
(17.8,0.00004)(18.5,0.0002)(19,0.00052)(19.5,0.00129)(20,0.00297)(20.5,0.00634)(21,0.0126)(21.5,0.0232)(22,0.0397)
(22.25,0.0506)(22.5,0.0632)(22.75,0.0775)(23,0.0933)(23.25,0.1102)(23.5,0.1279)(23.75,0.1457)(24,0.163)(24.25,0.1789)(24.5,0.1929)(24.75,0.2041)
(25,0.212)(25.25,0.2162)(25.5,0.2164)(25.75,0.2127)(26,0.2052)(26.25,0.1944)(26.5,0.1807)(26.75,0.165)(27,0.1479)(27.25,0.13)
(27.5,0.1123)(27.75,0.0952)(28,0.0793)(28.25,0.0648)(28.5,0.052)(29,0.0316)(29.5,0.0179)(30,0.0094)(30.5,0.0046)(31,0.0021)};
\addplot[forget plot,umbralst] coordinates {(25,0)(25,0.2625)};
\addlegendimage{area legend,fill=barra,draw=bordebarra,line width=.55pt}
\addlegendentry{Histograma de T. Máximas Limpias}
\addlegendimage{red,line width=1.4pt}
\addlegendentry{Ajuste Gaussiano ({\dejavu\fs{6.4}\textit{μ} = 25.39, \textit{σ} = 1.84})}
\addlegendimage{umbralst}
\addlegendentry{Umbral Crítico (25 °C)}
\end{axis}
\end{tikzpicture}
\end{document}
